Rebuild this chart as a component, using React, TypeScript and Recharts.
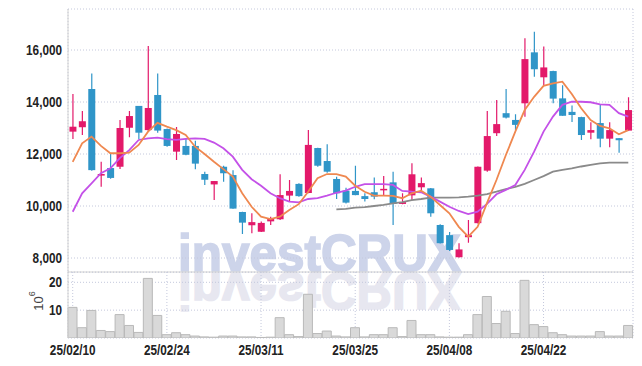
import React from 'react';
import { ComposedChart, Bar, Line, XAxis, YAxis, CartesianGrid } from 'recharts';

const dates = [
  '25/02/10', '25/02/11', '25/02/12', '25/02/13', '25/02/14', '25/02/17', '25/02/18', '25/02/19', '25/02/20', '25/02/21',
  '25/02/24', '25/02/25', '25/02/26', '25/02/27', '25/02/28', '25/03/04', '25/03/05', '25/03/06', '25/03/07', '25/03/10',
  '25/03/11', '25/03/12', '25/03/13', '25/03/14', '25/03/17', '25/03/18', '25/03/19', '25/03/20', '25/03/21', '25/03/24',
  '25/03/25', '25/03/26', '25/03/27', '25/03/28', '25/03/31', '25/04/01', '25/04/02', '25/04/03', '25/04/04', '25/04/07',
  '25/04/08', '25/04/09', '25/04/10', '25/04/11', '25/04/14', '25/04/15', '25/04/16', '25/04/17', '25/04/18', '25/04/21',
  '25/04/22', '25/04/23', '25/04/24', '25/04/25', '25/04/28', '25/04/29', '25/04/30', '25/05/02', '25/05/07', '25/05/08',
];

const opens = [
  12860, 13030, 14500, 11170, 11460, 11510, 13010, 13850, 12920, 14270,
  12960, 12090, 12310, 12310, 11230, 10830, 11510, 11190, 9770, 9260,
  9010, 9410, 9490, 10400, 10850, 10500, 12230, 11730, 11040, 10590,
  10580, 10380, 10530, 10620, 10910, 10080, 10410, 10720, 10680, 9270,
  8880, 8030, 8800, 9340, 11360, 12800, 13570, 13310, 13950, 15910,
  14950, 15190, 14140, 13620, 13420, 12820, 13190, 12590, 12610, 12900,
];
const highs = [
  14310, 13650, 15100, 11700, 12040, 13310, 13650, 13850, 16150, 15100,
  12980, 13040, 12600, 12510, 11320, 10960, 11550, 11380, 9780, 9720,
  9400, 9590, 11220, 11000, 10880, 12920, 12240, 12380, 11130, 10700,
  11550, 10490, 11100, 11150, 11320, 10490, 11640, 11100, 10690, 9300,
  9000, 8570, 9460, 11520, 13650, 14080, 14500, 13530, 16450, 16700,
  16130, 15200, 14640, 13870, 13430, 13220, 13910, 13220, 12620, 14180,
];
const lows = [
  12580, 12730, 11360, 10740, 11050, 11420, 12640, 12580, 12880, 12820,
  12280, 11770, 11950, 11410, 10810, 10230, 10930, 9890, 8920, 8950,
  9000, 9270, 9460, 10170, 10360, 10490, 11510, 11280, 10270, 10100,
  10410, 10170, 10260, 10420, 9270, 10070, 10230, 10610, 9590, 8560,
  8270, 8020, 8590, 9330, 11320, 12690, 13370, 12920, 13430, 14970,
  14620, 13950, 13470, 13230, 12540, 12570, 12260, 12260, 12050, 12890,
];
const closes = [
  13050, 13260, 11380, 11230, 11080, 13000, 13460, 12820, 13770, 12900,
  12310, 12770, 11970, 11630, 11010, 10960, 11260, 9900, 9360, 9380,
  9350, 9500, 10420, 10580, 10380, 12350, 11550, 11320, 10490, 10130,
  10420, 10270, 10360, 10660, 10080, 10150, 11220, 10880, 9720, 8570,
  8310, 8330, 8880, 11510, 12690, 13150, 13400, 13120, 15650, 15260,
  15330, 14130, 13470, 13500, 12730, 12920, 12590, 12920, 12530, 13690,
];

// moving averages as drawn (orange / purple / grey)
const ma5 = [
  11700, 12410, 12670, 12310, 12030, 12030, 12050, 12350, 12860, 13200,
  13050, 12920, 12730, 12280, 12000, 11700, 11420, 11130, 10490, 9970,
  9590, 9500, 9590, 9850, 10070, 10550, 11070, 11230, 11230, 11130,
  10780, 10550, 10400, 10400, 10390, 10300, 10490, 10590, 10360, 10040,
  9720, 9200, 8820, 9200, 10120, 11000, 11960, 12860, 13690, 14200,
  14620, 14720, 14780, 14310, 13760, 13310, 13080, 12990, 12760, 12920,
];
const ma20 = [
  9780, 10490, 10870, 11260, 11450, 11840, 12150, 12540, 12600, 12630,
  12570, 12540, 12580, 12600, 12580, 12440, 12220, 11900, 11390, 11030,
  10780, 10490, 10300, 10170, 10140, 10270, 10300, 10400, 10510, 10590,
  10740, 10840, 10840, 10840, 10810, 10580, 10550, 10530, 10360, 10170,
  9970, 9810, 9690, 9780, 10080, 10450, 10620, 10810, 11390, 12090,
  12860, 13440, 13890, 14010, 14010, 13990, 13910, 13890, 13570, 13440,
];
const ma60 = [
  null, null, null, null, null, null, null, null, null, null,
  null, null, null, null, null, null, null, null, null, null,
  null, null, null, null, null, null, null, null, 9870, 9890,
  9940, 9960, 10000, 10040, 10100, 10150, 10230, 10270, 10320, 10320,
  10320, 10330, 10360, 10400, 10460, 10550, 10650, 10740, 10850, 11000,
  11150, 11320, 11390, 11450, 11520, 11580, 11640, 11670, 11670, 11670,
];

// volume, millions of shares
const volumes = [
  11.0, 3.7, 9.9, 2.7, 2.3, 8.4, 4.5, 2.0, 21.4, 8.1,
  1.2, 1.9, 1.2, 0.7, 0.4, 0.3, 0.7, 0.7, 0.4, 0.4,
  0.2, 0.3, 7.3, 1.2, 0.5, 15.7, 1.6, 2.5, 0.7, 0.4,
  3.7, 0.4, 1.2, 1.2, 3.7, 0.5, 6.3, 1.2, 1.2, 0.4,
  0.3, 0.3, 1.2, 8.4, 14.9, 5.2, 9.6, 1.6, 20.7, 4.8,
  4.1, 1.9, 1.2, 0.7, 0.7, 0.7, 2.3, 0.7, 0.7, 4.5,
];

const priceTicks = [8000, 10000, 12000, 14000, 16000];
const volumeTicks = [10, 20];

const UP = '#e3196a';
const DOWN = '#2f95c8';
const FRAME = '#d2d2d2';
const GRID = '#c4c8dc';
const FONT = "'Liberation Sans', Arial, sans-serif";

const rows = dates.map((date, i) => ({
  date,
  open: opens[i],
  high: highs[i],
  low: lows[i],
  close: closes[i],
  range: [lows[i], highs[i]],
  ma5: ma5[i],
  ma20: ma20[i],
  ma60: ma60[i],
  vol: volumes[i],
}));

function Candle(props: any) {
  const { x, y, width, height, payload } = props;
  if (x == null || y == null) return null;
  const top = Math.min(y, y + height);
  const h = Math.abs(height);
  const { open, close, high, low } = payload;
  const toY = (v: number) => top + ((high - v) / (high - low)) * h;
  const color = close >= open ? UP : DOWN;
  const cx = x + width / 2;
  const bTop = toY(Math.max(open, close));
  const bBot = toY(Math.min(open, close));
  return (
    <g>
      <line x1={cx} x2={cx} y1={top} y2={top + h} stroke={color} strokeWidth={1.2} />
      <rect x={cx - 3.5} y={bTop} width={7} height={Math.max(bBot - bTop, 1.5)} fill={color} />
    </g>
  );
}

// narrow bold tick text (squeezed Liberation Sans)
function NarrowTick(props: any) {
  const { x, y, payload, textAnchor, fmt, dy } = props;
  const label = fmt ? fmt(payload.value) : payload.value;
  return (
    <g transform={`translate(${x} ${y}) scale(0.84 1)`}>
      <text x={0} y={0} dy={dy} textAnchor={textAnchor} fill="#222" fontSize={14} fontWeight={700} fontFamily={FONT}>
        {label}
      </text>
    </g>
  );
}

function ExpLabel(props: any) {
  const { viewBox } = props;
  if (!viewBox) return null;
  const cx = viewBox.x + 30;
  const cy = viewBox.y + viewBox.height / 2 - 4;
  return (
    <text
      x={cx}
      y={cy}
      transform={`rotate(-90 ${cx} ${cy})`}
      textAnchor="middle"
      dominantBaseline="central"
      fill="#444"
      fontSize={13}
      fontFamily="'Liberation Sans', sans-serif"
    >
      10<tspan dy={-6} fontSize={9}>6</tspan>
    </text>
  );
}

const fmtPrice = (v: number) => v.toLocaleString('en-US');

function Watermark() {
  const wm = {
    x: 178,
    y: 271,
    fontSize: 52,
    fontWeight: 700,
    fontFamily: FONT,
    textLength: 283,
    lengthAdjust: 'spacingAndGlyphs',
    strokeWidth: 1.6,
  } as any;
  return (
    <svg width={642} height={366} style={{ position: 'absolute', left: 0, top: 0 }}>
      <defs>
        <clipPath id="reflClip">
          <rect x={0} y={272} width={642} height={66} />
        </clipPath>
      </defs>
      <text {...wm} fill="#cdd4ea" stroke="#cdd4ea">investCRUX</text>
      <g clipPath="url(#reflClip)">
        <g transform="translate(0 544) scale(1 -1)">
          <text {...wm} fill="#e7e7f0" stroke="#e7e7f0">investCRUX</text>
        </g>
      </g>
    </svg>
  );
}

export default function App() {
  return (
    <div style={{ position: 'absolute', left: 0, top: 0, width: 642, height: 366, background: '#fff' }}>
      <Watermark />
      <div style={{ position: 'absolute', left: 0, top: 0 }}>
        <ComposedChart width={642} height={274} data={rows} margin={{ top: 9, right: 9, bottom: 1, left: 8 }}>
          <CartesianGrid stroke={GRID} strokeDasharray="1 2" />
          <XAxis dataKey="date" interval={9} height={1} tick={false} tickLine={false} axisLine={{ stroke: FRAME }} />
          <XAxis xAxisId="top" orientation="top" dataKey="date" height={0} tick={false} tickLine={false} axisLine={{ stroke: FRAME }} />
          <YAxis
            domain={[7462, 17577]}
            ticks={priceTicks}
            allowDataOverflow
            width={60}
            tickSize={0}
            tickMargin={6}
            tickLine={false}
            axisLine={{ stroke: FRAME }}
            tick={<NarrowTick fmt={fmtPrice} dy={5} />}
          />
          <YAxis yAxisId="r" orientation="right" width={0} domain={[0, 1]} tick={false} tickLine={false} axisLine={{ stroke: FRAME }} />
          <Line dataKey="ma60" stroke="#8a8a8a" strokeWidth={1.8} dot={false} isAnimationActive={false} />
          <Line dataKey="ma20" stroke="#c451e8" strokeWidth={1.8} dot={false} isAnimationActive={false} />
          <Line dataKey="ma5" stroke="#ef8850" strokeWidth={1.8} dot={false} isAnimationActive={false} />
          <Bar dataKey="range" shape={<Candle />} isAnimationActive={false} />
        </ComposedChart>
      </div>
      <div style={{ position: 'absolute', left: 0, top: 272 }}>
        <ComposedChart width={642} height={94} data={rows} barCategoryGap={0} barGap={0}
          margin={{ top: 0, right: 9, bottom: 0, left: 8 }}>
          <CartesianGrid stroke={GRID} strokeDasharray="1 2" />
          <XAxis dataKey="date" interval={9} height={28} tickSize={0} tickMargin={6} tickLine={false} axisLine={false}
            tick={<NarrowTick dy={11} />} />
          <YAxis
            domain={[0, 23.7]}
            ticks={volumeTicks}
            allowDataOverflow
            width={60}
            tickSize={0}
            tickMargin={6}
            tickLine={false}
            axisLine={{ stroke: FRAME }}
            tick={<NarrowTick dy={5} />}
            label={<ExpLabel />}
          />
          <YAxis yAxisId="r" orientation="right" width={0} domain={[0, 1]} tick={false} tickLine={false} axisLine={{ stroke: FRAME }} />
          <Bar dataKey="vol" fill="#d9d9d9" stroke="#b9b9b9" strokeWidth={1} isAnimationActive={false} />
        </ComposedChart>
      </div>
    </div>
  );
}
